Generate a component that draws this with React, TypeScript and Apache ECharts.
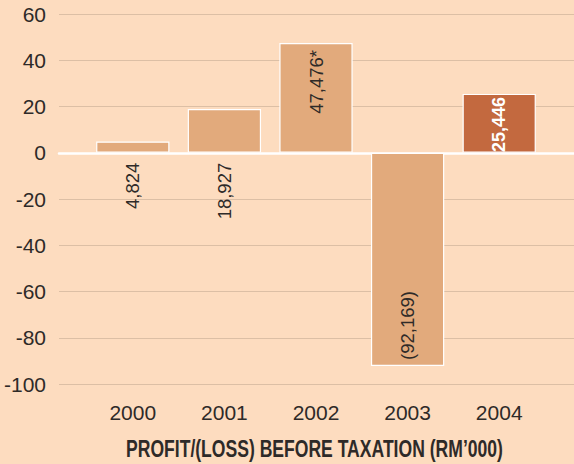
import React, { useEffect, useRef } from "react";
import * as echarts from "echarts";

const categories = ["2000", "2001", "2002", "2003", "2004"];
const values = [4.824, 18.927, 47.476, -92.169, 25.446];
const labels = ["4,824", "18,927", "47,476*", "(92,169)", "25,446"];
const highlightIndex = 4;
const title = "PROFIT/(LOSS) BEFORE TAXATION (RM’000)";

const FONT = "'Liberation Sans', Arial, sans-serif";
const BG = "#fddcbf";
const BAR = "#e2aa7c";
const BAR_HI = "#c3693f";
const TEXT = "#2e2a28";
const GRID = "#dcbfa5";

function measure(text: string, font: string): number {
  const c = document.createElement("canvas").getContext("2d");
  if (!c) return 450;
  c.font = font;
  return c.measureText(text).width;
}

export default function App() {
  const ref = useRef<HTMLDivElement>(null);
  useEffect(() => {
    if (!ref.current) return;
    const chart = echarts.init(ref.current, undefined, { renderer: "svg" });
    const data = values.map((v, i) => {
      const hi = i === highlightIndex;
      let label: any;
      if (v < 0) {
        label = { position: "insideBottom", rotate: 90, align: "left", verticalAlign: "middle", distance: 6 };
      } else if (v < 25) {
        label = { position: "bottom", rotate: 90, align: "right", verticalAlign: "middle", distance: 10 };
      } else {
        label = { position: "insideTop", rotate: 90, align: "right", verticalAlign: "middle", distance: hi ? 3 : 7 };
      }
      return {
        value: v,
        itemStyle: { color: hi ? BAR_HI : BAR },
        label: {
          show: true,
          ...label,
          formatter: labels[i],
          color: hi ? "#ffffff" : TEXT,
          fontWeight: hi ? "bold" : "normal",
          fontFamily: FONT,
          fontSize: hi ? 18 : 18.5,
        },
      };
    });
    const titleFont = `bold 23px ${FONT}`;
    const titleW = measure(title, titleFont);
    const sx = 377 / titleW;
    chart.setOption({
      animation: false,
      backgroundColor: BG,
      grid: [
        { left: 59, right: 0, top: 14, bottom: 80 },
        { left: 87, right: 29, top: 14, bottom: 80 },
      ],
      xAxis: [
        {
          gridIndex: 0,
          type: "value",
          min: 0,
          max: 1,
          axisLabel: { show: false },
          axisTick: { show: false },
          splitLine: { show: false },
          axisLine: { show: true, onZero: true, lineStyle: { color: "#ffffff", width: 2.5 } },
        },
        {
          gridIndex: 1,
          type: "category",
          data: categories,
          axisLine: { show: false, onZero: false },
          axisTick: { show: false },
          axisLabel: { color: TEXT, fontFamily: FONT, fontSize: 21, margin: 18 },
        },
      ],
      yAxis: [
        {
          gridIndex: 0,
          type: "value",
          min: -100,
          max: 60,
          interval: 20,
          axisLine: { show: false },
          axisTick: { show: false },
          axisLabel: { color: TEXT, fontFamily: FONT, fontSize: 21, margin: 13 },
          splitLine: { show: true, lineStyle: { color: GRID, width: 1 } },
        },
        {
          gridIndex: 1,
          type: "value",
          min: -100,
          max: 60,
          interval: 20,
          show: false,
        },
      ],
      graphic: [
        {
          type: "text",
          x: 126,
          y: 437,
          scaleX: sx,
          style: {
            text: title,
            fill: TEXT,
            font: titleFont,
          },
        },
      ],
      series: [
        {
          type: "bar",
          xAxisIndex: 1,
          yAxisIndex: 1,
          data,
          barWidth: "80%",
          itemStyle: { borderColor: "#ffffff", borderWidth: 1.2 },
        },
      ],
    });
    return () => chart.dispose();
  }, []);
  return <div ref={ref} style={{ position: "fixed", left: 0, top: 0, width: 574, height: 464 }} />;
}
